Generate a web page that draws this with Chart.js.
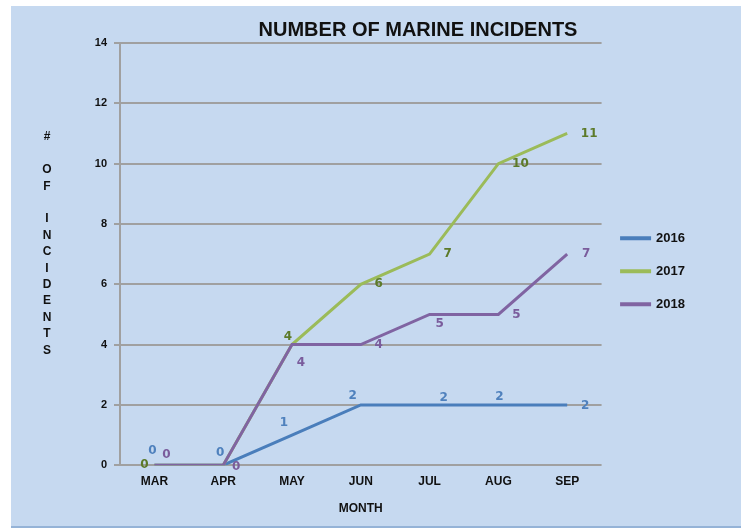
<!DOCTYPE html>
<html>
<head>
<meta charset="utf-8">
<script src="https://cdn.jsdelivr.net/npm/chart.js@4.4.1/dist/chart.umd.min.js"></script>
<style>
  html, body { margin: 0; padding: 0; background: #fff; }
  #panel { position: absolute; left: 11px; top: 6px; width: 730px; height: 520px;
           background: #c6d9f0; border-bottom: 2px solid #95b3d7; }
  #wrap { position: absolute; left: 0; top: 0; width: 741px; height: 529px; }
</style>
</head>
<body>
<div id="panel"></div>
<div id="wrap"><canvas id="chart"></canvas></div>
<script>
// ===== Dados =====
const months = ["MAR", "APR", "MAY", "JUN", "JUL", "AUG", "SEP"];
const years = ["2016", "2017", "2018"];
const incidents2016 = [0, 0, 1, 2, 2, 2, 2];
const incidents2017 = [0, 0, 4, 6, 7, 10, 11];
const incidents2018 = [0, 0, 4, 4, 5, 5, 7];
const yTicks = [0, 2, 4, 6, 8, 10, 12, 14];

// ===== Estilos =====
const lineColors = ["#4a7ebb", "#9bbb59", "#8064a2"];
const labelColors = ["#4f81bd", "#5c7a29", "#7a5c9c"];
// deslocamento dos rótulos em relação ao ponto (dx, dy); null = sem rótulo
const labelOffsets = [
  [[-2, -14], [-3, -12], [-8, -12], [-8, -9], [14, -7], [1, -8], [18, 1]],
  [[-10, 0], null, [-4, -8], [18, 0], [18, 0], [22, 0], [22, 0]],
  [[12, -10], [13, 2], [9, 18], [18, 0], [10, 9], [18, 0], [19, 0]]
];

// ===== Plugins =====
const extras = {
  id: "extras",
  afterDatasetsDraw(chart) {
    const c = chart.ctx;
    c.save();
    c.font = "bold 12px 'DejaVu Sans'";
    c.textAlign = "center";
    c.textBaseline = "middle";
    chart.data.datasets.forEach((ds, i) => {
      const meta = chart.getDatasetMeta(i);
      c.fillStyle = labelColors[i];
      meta.data.forEach((pt, j) => {
        const off = labelOffsets[i][j];
        if (!off) return;
        c.fillText(ds.data[j], pt.x + off[0], pt.y + off[1]);
      });
    });
    c.restore();
  },
  afterDraw(chart) {
    const c = chart.ctx;
    c.save();
    c.fillStyle = "#111";
    c.textAlign = "center";
    c.textBaseline = "middle";
    c.font = "bold 20px 'Liberation Sans', Arial, sans-serif";
    c.fillText("NUMBER OF MARINE INCIDENTS", 418, 30);
    // título do eixo Y, letra por letra
    const letters = ["#", "", "O", "F", "", "I", "N", "C", "I", "D", "E", "N", "T", "S"];
    c.font = "bold 12px 'Liberation Sans', Arial, sans-serif";
    letters.forEach((l, k) => c.fillText(l, 47, 137 + k * 16.4));
    c.restore();
  }
};

// ===== Gráfico =====
const ctx = document.getElementById("chart").getContext("2d");
const series = [incidents2016, incidents2017, incidents2018];
const chart = new Chart(ctx, {
  type: "line",
  data: {
    labels: months,
    datasets: years.map((y, i) => ({
      label: y,
      data: series[i],
      borderColor: lineColors[i],
      backgroundColor: lineColors[i],
      borderWidth: 3,
      pointRadius: 0,
      tension: 0,
      order: 2 - i
    }))
  },
  options: {
    responsive: true,
    maintainAspectRatio: false,
    animation: false,
    layout: { padding: { left: 60, right: 46, top: 43, bottom: 13 } },
    plugins: {
      legend: {
        position: "right",
        fullSize: false,
        title: { display: true, text: " ", padding: 10, font: { size: 12 } },
        labels: {
          sort: (a, b) => a.datasetIndex - b.datasetIndex,
          boxWidth: 28,
          boxHeight: 1,
          padding: 20,
          color: "#111",
          font: { family: "'Liberation Sans', Arial", size: 13, weight: "bold" }
        }
      },
      tooltip: { enabled: false }
    },
    scales: {
      x: {
        offset: true,
        grid: { display: false, drawTicks: false },
        border: { display: false },
        ticks: {
          color: "#111",
          padding: 9,
          font: { family: "'Liberation Sans', Arial", size: 12, weight: "bold" }
        },
        title: {
          display: true,
          text: "MONTH",
          color: "#111",
          padding: { top: 4, bottom: 0 },
          font: { family: "'Liberation Sans', Arial", size: 12, weight: "bold" }
        }
      },
      y: {
        min: 0,
        max: 14,
        afterFit: (s) => { s.width = 60; },
        afterBuildTicks: (s) => { s.ticks = yTicks.map(v => ({ value: v })); },
        grid: { color: "#a0a0a0", lineWidth: 2, tickLength: 6 },
        border: { color: "#a0a0a0", width: 2 },
        ticks: {
          color: "#111",
          padding: 7,
          font: { family: "'Liberation Sans', Arial", size: 11, weight: "bold" }
        }
      }
    }
  },
  plugins: [extras]
});
</script>
</body>
</html>
